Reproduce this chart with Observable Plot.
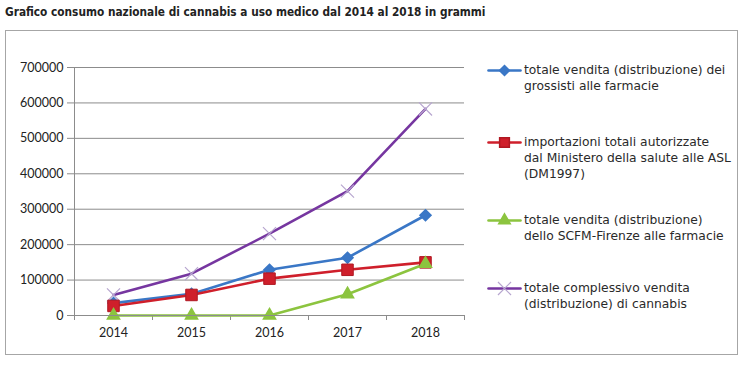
<!DOCTYPE html>
<html>
<head>
<meta charset="utf-8">
<script src="https://cdn.jsdelivr.net/npm/d3@7"></script>
<script src="https://cdn.jsdelivr.net/npm/@observablehq/plot@0.6"></script>
<style>
  html, body { margin: 0; padding: 0; background: #fff; }
  body { width: 747px; height: 368px; position: relative; overflow: hidden; }
  #title { position: absolute; left: 5px; top: 5px; font-family: "DejaVu Sans Condensed", "DejaVu Sans", sans-serif; font-weight: bold; font-size: 11.75px; color: #222; white-space: nowrap; }
  #frame { position: absolute; left: 5px; top: 30px; width: 731px; height: 323px; border: 1px solid #a6a6a6; }
  #chart { position: absolute; left: 0px; top: 31px; }
  #legend { position: absolute; left: 487px; top: 0; }
  .item { position: absolute; left: 0; width: 250px; }
  .item svg { position: absolute; left: 0; top: 0; }
  .item .txt { position: absolute; left: 37px; top: 0; font-family: "DejaVu Sans", sans-serif; font-size: 12.3px; line-height: 16px; color: #2a2a2a; white-space: nowrap; }
</style>
</head>
<body>
<div id="title">Grafico consumo nazionale di cannabis a uso medico dal 2014 al 2018 in grammi</div>
<div id="frame"></div>
<div id="chart"></div>
<div id="legend"></div>
<script>
const years = [2014, 2015, 2016, 2017, 2018];
const seriesNames = [
  "totale vendita (distribuzione) dei grossisti alle farmacie",
  "importazioni totali autorizzate dal Ministero della salute alle ASL (DM1997)",
  "totale vendita (distribuzione) dello SCFM-Firenze alle farmacie",
  "totale complessivo vendita (distribuzione) di cannabis"
];
const legendLines = [
  ["totale vendita (distribuzione) dei", "grossisti alle farmacie"],
  ["importazioni totali autorizzate", "dal Ministero della salute alle ASL", "(DM1997)"],
  ["totale vendita (distribuzione)", "dello SCFM-Firenze alle farmacie"],
  ["totale complessivo vendita", "(distribuzione) di cannabis"]
];
const grossisti = [35000, 61000, 129000, 163000, 283000];
const importazioni = [27000, 58000, 104000, 129000, 150000];
const scfm = [0, 0, 0, 60000, 146000];
const complessivo = [58000, 118000, 231000, 351000, 583000];
const yTicks = [0, 100000, 200000, 300000, 400000, 500000, 600000, 700000];

const colors = ["#3a77c6", "#cf1f2b", "#8cc43f", "#7636a0"];
const markerColors = ["#3a77c6", "#cf1f2b", "#8cc43f", "#b7a6cf"];
const symbols = ["diamond2", "square", "triangle2", "times"];
const allValues = [grossisti, importazioni, scfm, complessivo];

const data = [];
allValues.forEach((vals, s) => vals.forEach((v, i) => data.push({series: s, year: years[i], value: v})));

const boundaries = d3.range(years.length + 1).map(i => years[0] - 0.5 + i);

const marks = [
  Plot.ruleY(yTicks, {x1: boundaries[0], x2: boundaries[boundaries.length - 1], stroke: "#8c8c8c", strokeWidth: 1}),
  Plot.axisY({ticks: yTicks, tickFormat: d => String(d), tickSize: 7, tickPadding: 4, fontSize: 12.5, stroke: "#8c8c8c", fill: "#222", label: null}),
  Plot.ruleX([boundaries[0]], {y1: 0, y2: 700000, stroke: "#8c8c8c"}),
  Plot.axisX({ticks: boundaries, tickFormat: () => "", tickSize: 5, stroke: "#8c8c8c", label: null}),
  Plot.axisX({ticks: years, tickFormat: d => String(d), tickSize: 0, tickPadding: 13, fontSize: 12.5, fill: "#222", label: null})
];
[0, 1, 2, 3].forEach(s => {
  const d = data.filter(r => r.series === s);
  marks.push(Plot.line(d, {x: "year", y: "value", stroke: colors[s], strokeWidth: 2.6}));
});
[3, 0, 1, 2].forEach(s => {
  const d = data.filter(r => r.series === s);
  if (s === 3) {
    marks.push(Plot.dot(d, {x: "year", y: "value", symbol: "times", stroke: markerColors[s], strokeWidth: 1.2, r: 6}));
  } else if (s === 0) {
    marks.push(Plot.dot(d, {x: "year", y: "value", symbol: "diamond2", fill: markerColors[s], stroke: markerColors[s], r: 5}));
  } else if (s === 1) {
    marks.push(Plot.dot(d, {x: "year", y: "value", symbol: "square", fill: markerColors[s], stroke: "#b01822", strokeWidth: 1, r: 6.5}));
  } else {
    marks.push(Plot.dot(d, {x: "year", y: "value", symbol: "triangle2", fill: markerColors[s], stroke: markerColors[s], r: 5.8}));
  }
});
marks.push(Plot.ruleY([0], {x1: boundaries[0], x2: boundaries[boundaries.length - 1], stroke: "#8c8c8c"}));

const chart = Plot.plot({
  width: 470,
  height: 322,
  marginLeft: 74,
  marginRight: 6,
  marginTop: 36,
  marginBottom: 38,
  style: {fontFamily: "Lato, 'Open Sans', sans-serif", background: "transparent", overflow: "visible"},
  x: {type: "linear", domain: [boundaries[0], boundaries[boundaries.length - 1]]},
  y: {domain: [0, 700000]},
  marks
});
document.getElementById("chart").appendChild(chart);

const legendTops = [62, 134, 212, 280];
const legend = document.getElementById("legend");
legendLines.forEach((lines, s) => {
  const item = document.createElement("div");
  item.className = "item";
  item.style.top = legendTops[s] + "px";
  const sw = Plot.plot({
    width: 34, height: 16, margin: 0,
    x: {domain: [0, 1], range: [1, 33], axis: null},
    y: {domain: [0, 1], range: [16, 0], axis: null},
    style: {background: "transparent", overflow: "visible"},
    marks: [
      Plot.line([{x: 0, y: 0.5}, {x: 1, y: 0.5}], {x: "x", y: "y", stroke: colors[s], strokeWidth: 2.6}),
      s === 3
        ? Plot.dot([{x: 0.5, y: 0.5}], {x: "x", y: "y", symbol: "times", stroke: markerColors[s], strokeWidth: 1.2, r: 6})
        : Plot.dot([{x: 0.5, y: 0.5}], {x: "x", y: "y", symbol: symbols[s], fill: markerColors[s], stroke: s === 1 ? "#b01822" : markerColors[s], r: s === 0 ? 4.5 : 5.5})
    ]
  });
  item.appendChild(sw);
  const t = document.createElement("div");
  t.className = "txt";
  t.innerHTML = lines.join("<br>");
  item.appendChild(t);
  legend.appendChild(item);
});
</script>
</body>
</html>
